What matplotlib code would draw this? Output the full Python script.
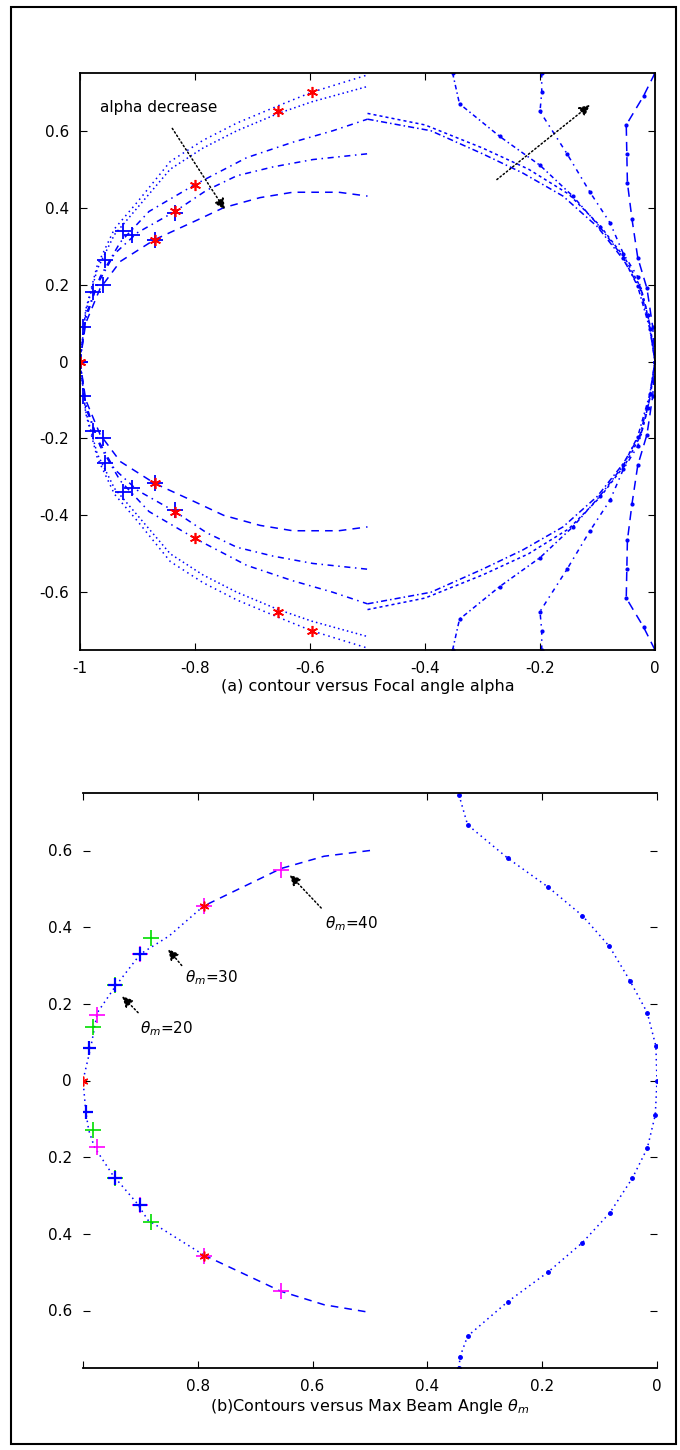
import numpy as np
import matplotlib
matplotlib.use('Agg')
import matplotlib.pyplot as plt
from matplotlib.patches import Rectangle

# ---- panel (a): contours versus focal angle alpha (upper half, mirrored below) ----
# left family, all start at (-1, 0) and stop at x = -0.5
a_x = [-1, -0.99, -0.965, -0.93, -0.87, -0.8, -0.75, -0.687, -0.63, -0.55, -0.5]
a_y = [0, 0.10, 0.19, 0.26, 0.317, 0.365, 0.40, 0.426, 0.44, 0.44, 0.43]
b_x = [-1, -0.99, -0.97, -0.94, -0.9, -0.835, -0.78, -0.727, -0.664, -0.595, -0.5]
b_y = [0, 0.11, 0.20, 0.28, 0.335, 0.39, 0.445, 0.483, 0.506, 0.525, 0.54]
c_x = [-1, -0.99, -0.965, -0.93, -0.88, -0.8, -0.71, -0.63, -0.56, -0.5]
c_y = [0, 0.12, 0.22, 0.31, 0.39, 0.46, 0.53, 0.57, 0.60, 0.63]
d_x = [-1, -0.99, -0.97, -0.94, -0.9, -0.843, -0.786, -0.727, -0.655, -0.597, -0.5]
d_y = [0, 0.13, 0.24, 0.33, 0.40, 0.50, 0.555, 0.60, 0.645, 0.675, 0.715]
e_x = [-1, -0.99, -0.97, -0.94, -0.9, -0.843, -0.786, -0.727, -0.655, -0.597, -0.5]
e_y = [0, 0.135, 0.25, 0.345, 0.415, 0.52, 0.575, 0.62, 0.665, 0.70, 0.745]

# right family, all end at (0, 0)
ell1_x = [-0.5, -0.39, -0.3, -0.23, -0.16, -0.1, -0.055, -0.026, -0.009, 0]
ell1_y = [0.63, 0.60, 0.54, 0.49, 0.43, 0.35, 0.265, 0.19, 0.09, 0]
ell2_x = [-0.5, -0.4, -0.3, -0.22, -0.15, -0.095, -0.052, -0.024, -0.008, 0]
ell2_y = [0.645, 0.615, 0.555, 0.50, 0.435, 0.352, 0.268, 0.19, 0.09, 0]
f_x = [-0.352, -0.34, -0.27, -0.2, -0.143, -0.096, -0.055, -0.03, -0.009, 0]
f_y = [0.75, 0.67, 0.585, 0.51, 0.43, 0.35, 0.27, 0.195, 0.085, 0]
g_x = [-0.197, -0.197, -0.2, -0.153, -0.113, -0.078, -0.055, -0.03, -0.012, 0]
g_y = [0.75, 0.70, 0.65, 0.54, 0.44, 0.36, 0.28, 0.22, 0.12, 0]
h_x = [0, -0.02, -0.05, -0.049, -0.048, -0.04, -0.03, -0.014, -0.004, 0]
h_y = [0.75, 0.69, 0.615, 0.54, 0.465, 0.37, 0.27, 0.19, 0.09, 0]

plus_x = [-0.995, -0.977, -0.96, -0.957, -0.925, -0.91, -0.87, -0.835, -1]
plus_y = [0.09, 0.18, 0.20, 0.265, 0.34, 0.33, 0.317, 0.385, 0]
star_x = [-1, -0.87, -0.835, -0.8, -0.655, -0.597]
star_y = [0, 0.317, 0.39, 0.46, 0.65, 0.70]

# ---- panel (b): contours versus max beam angle theta_m ----
bl_x = [-0.5, -0.58, -0.655, -0.79, -0.85, -0.9, -0.943, -0.975, -0.986, -1,
        -0.995, -0.99, -0.98, -0.948, -0.906, -0.887, -0.79, -0.655, -0.58, -0.5]
bl_y = [0.6, 0.585, 0.553, 0.455, 0.377, 0.33, 0.247, 0.177, 0.09, 0,
        -0.083, -0.13, -0.174, -0.247, -0.32, -0.364, -0.455, -0.55, -0.585, -0.605]
br_x = [-0.345, -0.33, -0.26, -0.19, -0.13, -0.083, -0.047, -0.017, -0.002, 0,
        -0.003, -0.017, -0.043, -0.082, -0.13, -0.19, -0.26, -0.33, -0.343, -0.345]
br_y = [0.745, 0.667, 0.58, 0.505, 0.43, 0.35, 0.26, 0.177, 0.09, 0,
        -0.09, -0.177, -0.255, -0.345, -0.423, -0.5, -0.577, -0.667, -0.72, -0.75]

mag_x = [-0.655, -0.79, -0.9, -0.976, -0.976, -0.9, -0.79, -0.655]
mag_y = [0.55, 0.455, 0.33, 0.172, -0.174, -0.325, -0.457, -0.55]
grn_x = [-0.882, -0.944, -0.983, -0.983, -0.945, -0.882]
grn_y = [0.371, 0.25, 0.14, -0.13, -0.255, -0.368]
blu_x = [-0.99, -0.944, -0.9, -0.995, -0.945, -0.9]
blu_y = [0.085, 0.25, 0.33, -0.083, -0.255, -0.325]
red_x = [-1, -0.79, -0.79]
red_y = [0, 0.455, -0.457]

fig = plt.figure(figsize=(6.8, 14.5), dpi=100)
fig.patches.append(Rectangle((11 / 680, 1 - 1444 / 1450), 665 / 680, 1437 / 1450,
                             transform=fig.transFigure, fill=False, lw=1.5, ec='black'))

ax1 = fig.add_axes([80 / 680, 1 - 650 / 1450, 575 / 680, 577 / 1450])
ax2 = fig.add_axes([83 / 680, 1 - 1368 / 1450, 574 / 680, 575 / 1450])

blue = '#0000ff'
lw = 1.1
asterisk = (6, 2, 0)

# panel (a) curves, upper half and its mirror
left_curves = [(a_x, a_y, (0, (5, 4))), (b_x, b_y, (0, (4, 3, 1, 3))),
               (c_x, c_y, (0, (4, 3, 1, 3))), (d_x, d_y, (0, (1, 2))),
               (e_x, e_y, (0, (1, 2.5)))]
right_curves = [(ell1_x, ell1_y, (0, (4, 2, 1, 2)), 'none'),
                (ell2_x, ell2_y, (0, (2, 2)), 'none'),
                (f_x, f_y, (0, (3, 2, 1, 2)), '.'),
                (g_x, g_y, (0, (3, 3, 1, 3)), '.'),
                (h_x, h_y, (0, (6, 4)), '.')]
for sgn in (1, -1):
    for xs, ys, ls in left_curves:
        ax1.plot(xs, np.array(ys) * sgn, color=blue, lw=lw, linestyle=ls)
    for xs, ys, ls, mk in right_curves:
        ax1.plot(xs, np.array(ys) * sgn, color=blue, lw=lw, linestyle=ls,
                 marker=mk, markersize=4)
    ax1.plot(plus_x, np.array(plus_y) * sgn, linestyle='none', marker='+',
             color=blue, markersize=11, mew=1.3)
    ax1.plot(star_x, np.array(star_y) * sgn, linestyle='none', marker=asterisk,
             color='red', markersize=8, mew=1.2)

ax1.annotate('alpha decrease', xy=(-0.748, 0.395), xytext=(-0.965, 0.66),
             fontsize=11, va='center', ha='left',
             arrowprops=dict(arrowstyle='-|>', linestyle=':', color='black',
                             lw=1.1, shrinkA=9, shrinkB=0, mutation_scale=16))
ax1.annotate('', xy=(-0.113, 0.667), xytext=(-0.275, 0.473),
             arrowprops=dict(arrowstyle='-|>', linestyle=':', color='black',
                             lw=1.1, shrinkA=0, shrinkB=0, mutation_scale=16))

ax1.set_xlim(-1, 0)
ax1.set_ylim(-0.75, 0.75)
ax1.set_xticks([-1, -0.8, -0.6, -0.4, -0.2, 0])
ax1.set_xticklabels(['-1', '-0.8', '-0.6', '-0.4', '-0.2', '0'])
ax1.set_yticks([-0.6, -0.4, -0.2, 0, 0.2, 0.4, 0.6])
ax1.set_yticklabels(['-0.6', '-0.4', '-0.2', '0', '0.2', '0.4', '0.6'])
ax1.tick_params(direction='in', top=True, right=True, labelsize=11, length=5, pad=8)
for sp in ax1.spines.values():
    sp.set_linewidth(1.3)
ax1.set_xlabel('(a) contour versus Focal angle alpha', fontsize=11.5, labelpad=2)

# panel (b)
ax2.plot(bl_x[:4], bl_y[:4], color=blue, lw=lw, linestyle=(0, (5, 4)))
ax2.plot(bl_x[3:17], bl_y[3:17], color=blue, lw=lw, linestyle=(0, (1, 2.5)))
ax2.plot(bl_x[16:], bl_y[16:], color=blue, lw=lw, linestyle=(0, (5, 4)))
ax2.plot(br_x, br_y, color=blue, lw=lw, linestyle=(0, (1, 2.5)), marker='.', markersize=5)
ax2.plot(mag_x, mag_y, linestyle='none', marker='+', color='magenta', markersize=12, mew=1.2)
ax2.plot(grn_x, grn_y, linestyle='none', marker='+', color='#00dd00', markersize=12, mew=1.2)
ax2.plot(blu_x, blu_y, linestyle='none', marker='+', color=blue, markersize=10, mew=1.6)
ax2.plot(red_x, red_y, linestyle='none', marker=asterisk, color='red', markersize=7, mew=1.1)

arrow_kw = dict(arrowstyle='-|>', linestyle=':', color='black', lw=1.1,
                shrinkA=0, shrinkB=0, mutation_scale=16)
ax2.annotate('', xy=(-0.64, 0.537), xytext=(-0.585, 0.45), arrowprops=arrow_kw)
ax2.text(-0.578, 0.408, r'$\theta_m$=40', fontsize=11, va='center', ha='left')
ax2.annotate('', xy=(-0.852, 0.343), xytext=(-0.828, 0.30), arrowprops=arrow_kw)
ax2.text(-0.822, 0.268, r'$\theta_m$=30', fontsize=11, va='center', ha='left')
ax2.annotate('', xy=(-0.932, 0.22), xytext=(-0.904, 0.177), arrowprops=arrow_kw)
ax2.text(-0.9, 0.135, r'$\theta_m$=20', fontsize=11, va='center', ha='left')

ax2.set_xlim(-1, 0)
ax2.set_ylim(-0.75, 0.75)
ax2.set_xticks([-1, -0.8, -0.6, -0.4, -0.2, 0])
ax2.set_xticklabels(['', '0.8', '0.6', '0.4', '0.2', '0'])
ax2.set_yticks([-0.6, -0.4, -0.2, 0, 0.2, 0.4, 0.6])
ax2.set_yticklabels(['0.6', '0.4', '0.2', '0', '0.2', '0.4', '0.6'])
ax2.tick_params(direction='in', top=True, right=True, labelsize=11, length=5, pad=8)
ax2.spines['left'].set_visible(False)
ax2.spines['right'].set_visible(False)
ax2.spines['top'].set_linewidth(1.3)
ax2.spines['bottom'].set_linewidth(1.3)
ax2.set_xlabel(r'(b)Contours versus Max Beam Angle $\theta_m$', fontsize=11.5, labelpad=2)

fig.savefig('out.png', dpi=100)
